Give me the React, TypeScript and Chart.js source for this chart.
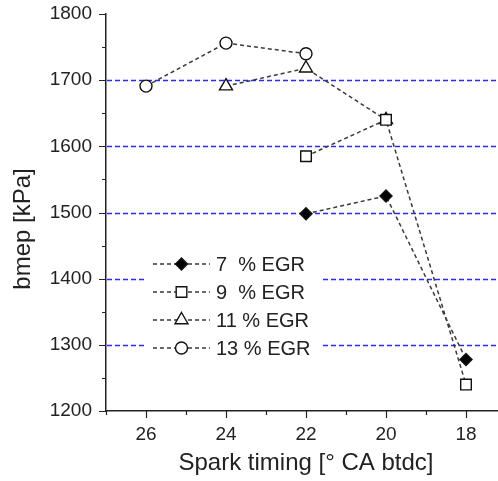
import { useEffect, useRef } from 'react';
import { Chart, registerables } from 'chart.js';
import { drawPoint } from 'chart.js/helpers';

Chart.register(...registerables);

// Spark timing in degrees crank angle before TDC (axis runs high -> low)
const sparkTiming = [26, 24, 22, 20, 18];

// Brake mean effective pressure [kPa] per EGR rate; null = not measured
const bmepEgr7 = [null, null, 1498, 1525, 1278];
const bmepEgr9 = [null, null, 1585, 1640, 1240];
const bmepEgr11 = [null, 1691, 1718, 1640, null];
const bmepEgr13 = [1691, 1756, 1740, null, null];

const seriesLabels = ['7  % EGR', '9  % EGR', '11 % EGR', '13 % EGR'];
const seriesPointStyles = ['rectRot', 'rect', 'triangle', 'circle'];
const seriesFilled = [true, false, false, false];
const seriesRadius = [6, 7.5, 7.5, 6];

const xTickValues = [27, 26, 25, 24, 23, 22, 21, 20, 19, 18];
const yTickValues = [1200, 1250, 1300, 1350, 1400, 1450, 1500, 1550, 1600, 1650, 1700, 1750, 1800];
const yGridValues = [1300, 1400, 1500, 1600, 1700];

const xTitle = 'Spark timing [\u00B0 CA btdc]';
const yTitle = 'bmep [kPa]';

const FONT = '"Liberation Sans", Arial, sans-serif';
const INK = '#222';
const GRID_BLUE = 'rgb(40, 40, 255)';

const toPoints = (values: (number | null)[]) =>
  sparkTiming
    .map((x, i) => ({ x, y: values[i] }))
    .filter((p) => p.y !== null) as { x: number; y: number }[];

const decorations = {
  id: 'decorations',
  beforeDatasetsDraw(chart: any) {
    const { ctx, chartArea, scales } = chart;
    const ys = scales.y;
    ctx.save();
    ctx.strokeStyle = GRID_BLUE;
    ctx.lineWidth = 1.5;
    ctx.setLineDash([5, 3]);
    yGridValues.forEach((v) => {
      const py = Math.round(ys.getPixelForValue(v)) + 0.5;
      ctx.beginPath();
      ctx.moveTo(chartArea.left + 1, py);
      ctx.lineTo(chartArea.right, py);
      ctx.stroke();
    });
    ctx.restore();
  },
  afterDraw(chart: any) {
    const { ctx, chartArea, scales } = chart;
    const xs = scales.x;
    const ys = scales.y;
    ctx.save();

    // tick marks: long on labelled values, short in between
    ctx.strokeStyle = INK;
    ctx.lineWidth = 1.2;
    ctx.setLineDash([]);
    ctx.beginPath();
    yTickValues.forEach((v) => {
      const py = Math.round(ys.getPixelForValue(v)) + 0.5;
      const len = v % 100 === 0 ? 7 : 4;
      ctx.moveTo(chartArea.left - len, py);
      ctx.lineTo(chartArea.left, py);
    });
    xTickValues.forEach((v) => {
      const px = Math.round(xs.getPixelForValue(v)) + 0.5;
      const len = v % 2 === 0 ? 7 : 4;
      ctx.moveTo(px, chartArea.bottom);
      ctx.lineTo(px, chartArea.bottom + len);
    });
    ctx.stroke();

    // legend inside the plot
    const boxLeft = chartArea.left + 39;
    const boxTop = chartArea.top + 236;
    ctx.fillStyle = '#fff';
    ctx.fillRect(boxLeft, boxTop, 178, 114);
    chart.data.datasets.forEach((ds: any, i: number) => {
      const ly = boxTop + 14 + i * 28;
      const lx0 = boxLeft + 8;
      const lx1 = boxLeft + 65;
      ctx.strokeStyle = ds.borderColor;
      ctx.lineWidth = ds.borderWidth;
      ctx.setLineDash(ds.borderDash);
      ctx.beginPath();
      ctx.moveTo(lx0, ly);
      ctx.lineTo(lx1, ly);
      ctx.stroke();
      ctx.setLineDash([]);
      ctx.fillStyle = ds.pointBackgroundColor;
      ctx.strokeStyle = ds.pointBorderColor;
      ctx.lineWidth = ds.pointBorderWidth;
      drawPoint(ctx, { pointStyle: ds.pointStyle, radius: ds.pointRadius, rotation: 0, borderWidth: ds.pointBorderWidth }, (lx0 + lx1) / 2, ly);
      ctx.fillStyle = INK;
      ctx.font = `20px ${FONT}`;
      ctx.textAlign = 'left';
      ctx.textBaseline = 'middle';
      ctx.fillText(ds.label, lx1 + 6, ly + 1);
    });

    // axis titles
    ctx.fillStyle = INK;
    ctx.font = `24px ${FONT}`;
    ctx.textAlign = 'center';
    ctx.textBaseline = 'alphabetic';
    ctx.fillText(xTitle, chartArea.left + 200, chartArea.bottom + 59);
    ctx.save();
    ctx.translate(29.5, chartArea.top + 215);
    ctx.rotate(-Math.PI / 2);
    ctx.fillText(yTitle, 0, 0);
    ctx.restore();

    ctx.restore();
  },
};

export default function App() {
  const canvasRef = useRef<HTMLCanvasElement | null>(null);

  useEffect(() => {
    const canvas = canvasRef.current;
    if (!canvas) return;

    const series = [bmepEgr7, bmepEgr9, bmepEgr11, bmepEgr13];
    const datasets = series.map((values, i) => ({
      label: seriesLabels[i],
      data: toPoints(values),
      borderColor: '#3a3a3a',
      borderWidth: 1.5,
      borderDash: [4, 3],
      pointStyle: seriesPointStyles[i],
      pointRadius: seriesRadius[i],
      pointBackgroundColor: seriesFilled[i] ? '#000' : '#fff',
      pointBorderColor: '#111',
      pointBorderWidth: 1.4,
      fill: false,
      tension: 0,
    }));

    const chart = new Chart(canvas, {
      type: 'line',
      data: { datasets },
      options: {
        responsive: false,
        animation: false,
        devicePixelRatio: 1,
        layout: { autoPadding: false, padding: { top: 14, left: 0, right: 0, bottom: 0 } },
        plugins: {
          legend: { display: false },
          tooltip: { enabled: false },
        },
        scales: {
          x: {
            type: 'linear',
            reverse: true,
            min: 17.2,
            max: 27,
            afterBuildTicks: (scale: any) => {
              scale.ticks = xTickValues.map((value) => ({ value }));
            },
            afterFit: (scale: any) => {
              scale.height = 70;
              scale.paddingLeft = 0;
              scale.paddingRight = 0;
            },
            grid: { display: false, drawTicks: false },
            border: { display: true, color: INK, width: 1.5 },
            ticks: {
              autoSkip: false,
              maxRotation: 0,
              padding: 12,
              color: INK,
              font: { family: FONT, size: 19 },
              callback: (v: any) => (Number(v) % 2 === 0 && Number(v) <= 26 ? String(v) : ''),
            },
          },
          y: {
            type: 'linear',
            min: 1200,
            max: 1800,
            afterBuildTicks: (scale: any) => {
              scale.ticks = yTickValues.map((value) => ({ value }));
            },
            afterFit: (scale: any) => {
              scale.width = 106;
              scale.paddingTop = 0;
              scale.paddingBottom = 0;
            },
            grid: { display: false, drawTicks: false },
            border: { display: true, color: INK, width: 1.5 },
            ticks: {
              autoSkip: false,
              padding: 14,
              color: INK,
              font: { family: FONT, size: 19 },
              callback: (v: any) => (Number(v) % 100 === 0 ? String(v) : ''),
            },
          },
        },
      },
      plugins: [decorations],
    } as any);

    return () => chart.destroy();
  }, []);

  return (
    <div style={{ position: 'fixed', left: 0, top: 0, width: 498, height: 481, background: '#fff' }}>
      <canvas ref={canvasRef} width={498} height={481} />
    </div>
  );
}
